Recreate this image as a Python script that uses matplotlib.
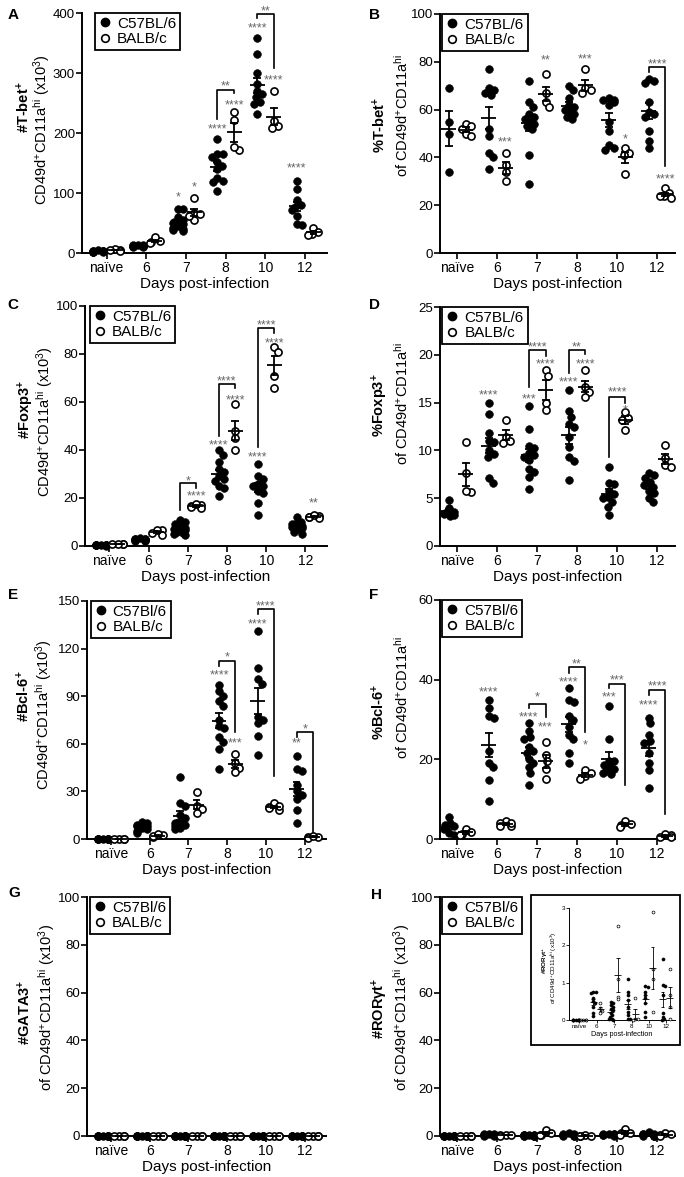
import numpy as np
import matplotlib
matplotlib.use('Agg')
import matplotlib.pyplot as plt
from matplotlib.lines import Line2D
from matplotlib.patches import Rectangle

plt.rcParams.update({
    'font.family': ['Liberation Sans', 'DejaVu Sans'],
    'mathtext.fontset': 'custom',
    'mathtext.rm': 'Liberation Sans',
    'mathtext.it': 'Liberation Sans:italic',
    'mathtext.bf': 'Liberation Sans:bold',
    'axes.linewidth': 1.4,
    'xtick.major.width': 1.2,
    'ytick.major.width': 1.2,
    'xtick.major.size': 4,
    'ytick.major.size': 4,
    'xtick.labelsize': 10,
    'ytick.labelsize': 9.5,
})

days = ['naïve', '6', '7', '8', '10', '12']

# ---- A: #T-bet+ (x10^3)
tbet_num_b6 = [
    [2, 3, 4, 2, 5, 3, 1, 4, 2, 3],
    [10, 12, 13, 11, 14, 12, 10, 13, 12, 11],
    [73, 73, 60, 55, 52, 50, 48, 45, 42, 40, 38, 36],
    [190, 165, 165, 160, 152, 145, 140, 125, 120, 118, 104],
    [358, 332, 300, 282, 270, 265, 260, 252, 248, 232],
    [120, 106, 88, 80, 76, 72, 62, 48, 46]]
tbet_num_balb = [
    [5, 6, 4, 5],
    [18, 20, 17, 26],
    [91, 67, 55, 62, 65],
    [235, 222, 172, 177],
    [270, 220, 212, 208],
    [42, 35, 32, 30]]

# ---- B: %T-bet+
tbet_pct_b6 = [
    [69, 55, 50, 34],
    [77, 69, 68, 67, 66, 52, 49, 42, 40, 35],
    [72, 63, 61, 58, 57, 56, 55, 54, 53, 52, 41, 29],
    [70, 68, 65, 62, 61, 60, 59, 58, 57, 56],
    [65, 64, 64, 63, 62, 55, 51, 45, 44, 43],
    [73, 72, 71, 63, 59, 58, 57, 51, 47, 44]]
tbet_pct_balb = [
    [54, 53, 52, 50, 49],
    [42, 37, 34, 30],
    [75, 67, 63, 61],
    [77, 69, 68, 67],
    [44, 42, 41, 33],
    [27, 25, 24, 24, 23]]

# ---- C: #Foxp3+ (x10^3)
foxp3_num_b6 = [
    [0.3, 0.5, 0.4, 0.6, 0.2, 0.5, 0.4, 0.3, 0.6, 0.5],
    [2.5, 3, 2, 3.2, 2.8, 2.2, 3, 2.6, 2.4, 2.9],
    [10.8, 10, 9, 8, 7.5, 7, 6.5, 6, 5.5, 5, 4.5],
    [40, 38, 35, 32, 31, 29, 28, 27, 25, 24, 21],
    [34, 29, 28, 26, 25, 25, 23, 22, 18, 13],
    [12, 10, 9, 8.5, 8, 7.5, 7, 6, 5, 9]]
foxp3_num_balb = [
    [0.8, 0.7, 0.9, 0.8],
    [6.5, 4.5, 6.8, 5.5],
    [17, 16.5, 16, 16.2, 17.5],
    [59, 48, 45, 40],
    [83, 81, 71, 66],
    [12.5, 12, 11.5, 12, 13]]

# ---- D: %Foxp3+
foxp3_pct_b6 = [
    [4.8, 4.0, 3.6, 3.5, 3.3, 3.2, 3.1],
    [15, 13.8, 11.8, 11, 10.9, 10, 9.6, 9.3, 7.1, 6.6],
    [14.6, 12.2, 10.5, 10.2, 9.7, 9.5, 9.3, 9, 8.1, 7.7, 7.2, 6],
    [16.3, 14.1, 13.5, 12.8, 12.4, 11.4, 10.4, 9.3, 8.9, 6.9],
    [8.3, 6.6, 6.5, 5.8, 5.4, 5.1, 5, 4.6, 4.1, 3.2],
    [7.6, 7.4, 7.1, 6.7, 6.4, 6.2, 5.8, 5.5, 5, 4.6]]
foxp3_pct_balb = [
    [10.9, 7.6, 5.7, 5.8],
    [13.2, 11.4, 10.8, 11],
    [18.4, 17.8, 15, 14.2],
    [18.4, 16.6, 16.1, 15.6],
    [14, 13.4, 13.2, 12.1],
    [10.6, 9.2, 8.5, 8.3]]

# ---- E: #Bcl-6+ (x10^3)
bcl6_num_b6 = [
    [0.2, 0.3, 0.1, 0.2, 0.3, 0.2, 0.1, 0.2, 0.3],
    [11, 10, 9, 8, 7, 6, 5, 4, 8],
    [39, 23, 21, 15, 13, 11, 10, 9, 8, 7, 6],
    [97, 93, 90, 87, 84, 75, 71, 70, 64, 61, 57, 44],
    [131, 108, 101, 98, 77, 75, 73, 65, 53],
    [52.5, 44, 43, 34, 30, 28, 25, 18, 10]]
bcl6_num_balb = [
    [0.3, 0.2, 0.3, 0.2],
    [2.5, 1.5, 1.8, 2.9],
    [29.5, 21, 19, 16.5],
    [53.5, 48, 45, 42.5],
    [22.5, 20, 19.5, 18.5, 20.5],
    [1, 1.5, 0.8, 2]]

# ---- F: %Bcl-6+
bcl6_pct_b6 = [
    [5.5, 4, 3.5, 3.2, 2.5, 1.5, 1],
    [34.8, 32.8, 31, 30.5, 22, 19, 18, 14.8, 9.6],
    [29, 27, 25.5, 25, 23, 22, 21.5, 20, 19, 18, 16.5, 13.5],
    [38, 35, 34.5, 31, 30, 28, 26, 25, 21.5, 19],
    [33.5, 25.2, 19.5, 19.5, 18.5, 18, 17.5, 17, 16.5, 16.2],
    [30.5, 29, 26, 24.5, 24, 21.5, 19, 17.3, 12.7]]
bcl6_pct_balb = [
    [2.6, 1.8, 1.3, 0.9],
    [4.6, 4, 3.3, 3.2, 4.1],
    [24.3, 21, 19.5, 17.5, 15],
    [17.4, 16.5, 15.8, 15],
    [4.4, 3.8, 3.4, 3.0],
    [0.6, 1, 0.4, 1.2]]

# ---- G: #GATA3+ (x10^3), all zero
gata3_b6 = [
    [0, 0, 0, 0, 0, 0, 0, 0, 0, 0],
    [0, 0, 0, 0, 0, 0, 0, 0, 0, 0, 0, 0],
    [0, 0, 0, 0, 0, 0, 0, 0, 0, 0, 0, 0],
    [0, 0, 0, 0, 0, 0, 0, 0, 0, 0, 0, 0],
    [0, 0, 0, 0, 0, 0, 0, 0],
    [0, 0, 0, 0, 0, 0, 0, 0]]
gata3_balb = [
    [0, 0, 0, 0], [0, 0, 0, 0], [0, 0, 0, 0],
    [0, 0, 0, 0], [0, 0, 0, 0], [0, 0, 0, 0]]

# ---- H: #RORgt+ (x10^3)
rorgt_b6 = [
    [0, 0, 0, 0, 0, 0, 0, 0],
    [0.76, 0.74, 0.72, 0.6, 0.5, 0.45, 0.35, 0.2, 0.1],
    [0.49, 0.45, 0.4, 0.36, 0.3, 0.27, 0.18, 0.13, 0.09, 0.04, 0.02, 0],
    [1.09, 0.76, 0.67, 0.54, 0.36, 0.22, 0.13, 0.04, 0.02],
    [0.9, 0.88, 0.76, 0.67, 0.58, 0.45, 0.22, 0.09],
    [1.63, 0.94, 0.9, 0.67, 0.18, 0.07, 0.02, 0]]
rorgt_balb = [
    [0, 0, 0, 0],
    [0.45, 0.31, 0.25, 0.18],
    [2.52, 1.1, 0.62, 0.55],
    [0.58, 0.03, 0.02, 0],
    [2.9, 1.36, 1.1, 0.22],
    [1.36, 0.67, 0.36, 0.02]]

# significance marks: (day, strain 0=B6 1=BALB, text, y)
stars_a = [(2, 0, '*', 99), (2, 1, '*', 115), (3, 0, '****', 212), (3, 1, '****', 252),
           (4, 0, '****', 380), (4, 1, '****', 294), (5, 0, '****', 147)]
stars_b = [(1, 1, '***', 47.8), (2, 1, '**', 82), (3, 1, '***', 82.6), (4, 1, '*', 49.2),
           (5, 1, '****', 32.4)]
stars_c = [(2, 1, '****', 22), (3, 0, '****', 43.5), (3, 1, '****', 62.2), (4, 0, '****', 38.6),
           (4, 1, '****', 86), (5, 1, '**', 19.4)]
stars_d = [(1, 0, '****', 16.1), (2, 0, '***', 15.7), (2, 1, '****', 19.4), (3, 0, '****', 17.5),
           (3, 1, '****', 19.4), (4, 1, '*', 14.6)]
stars_e = [(3, 0, '****', 105.3), (3, 1, '***', 62.6), (4, 0, '****', 137.8), (5, 0, '**', 62.6)]
stars_f = [(1, 0, '****', 37.8), (2, 0, '****', 31.3), (2, 1, '***', 29), (3, 0, '****', 40.3),
           (3, 1, '*', 24.4), (4, 0, '***', 36.5), (5, 0, '****', 34.5)]
# brackets: (day, left leg bottom, right leg bottom, top, text, text y)
brk_a = [(3, 224, 266, 272, '**', 283), (4, 392, 308, 399, '**', 409)]
brk_b = [(5, 75.6, 36.6, 78, '****', 80.6)]
brk_c = [(2, 15, 24, 26.1, '*', 28.4), (3, 46, 65.7, 67.5, '****', 70), (4, 41.4, 88.9, 91, '****', 93.4)]
brk_d = [(2, 16.6, 19.9, 20.5, '****', 21.2), (3, 18.1, 20.1, 20.5, '**', 21.2),
         (4, 9.3, 15.0, 15.6, '****', 16.4)]
brk_e = [(3, 108.8, 67.4, 112, '*', 117), (4, 141.6, 40, 144.7, '****', 148.7),
         (5, 64.3, 4.4, 67.4, '*', 71.5)]
brk_f = [(2, 32.8, 30.7, 34, '*', 36.5), (3, 41.7, 26.9, 43.1, '**', 44.8),
         (4, 37.8, 13.5, 39, '***', 40.8), (5, 36.1, 6.4, 37.4, '****', 39.2)]

W, H = 684, 1177
fig = plt.figure(figsize=(W / 100, H / 100), dpi=100)
COL_OFF = 0.21


def add_ax(x0, x1, y0, y1, **kw):
    return fig.add_axes([x0 / W, 1 - y1 / H, (x1 - x0) / W, (y1 - y0) / H], **kw)


def swarm(ax, x0, vals, diam_px, max_off):
    vals = np.asarray(vals, float)
    pts = ax.transData.transform(np.column_stack([np.full(len(vals), x0), vals]))
    ypx = pts[:, 1]
    ppu = ax.transData.transform((1, 0))[0] - ax.transData.transform((0, 0))[0]
    d = diam_px * 0.8
    offs = np.zeros(len(vals))
    placed = []
    for i in np.argsort(-vals, kind='stable'):
        cands, blocks = [0.0], []
        for ox, oy in placed:
            dy = abs(ypx[i] - oy)
            if dy < d:
                w = np.sqrt(d * d - dy * dy)
                blocks.append((ox - w, ox + w))
                cands += [ox + w, ox - w]
        cands.sort(key=abs)
        for c in cands:
            if all(not (lo + 1e-6 < c < hi - 1e-6) for lo, hi in blocks):
                break
        offs[i] = c
        placed.append((c, ypx[i]))
    return np.clip(offs / ppu, -max_off, max_off)


def star(ax, x, y, s, fs=9):
    ax.annotate(s, (x, y), xytext=(0, -2.6), textcoords='offset points', ha='center',
                va='center', fontsize=fs, color='#666666', annotation_clip=False)


def draw_groups(ax, b6, balb, s=31, lw=1.3, mean_w=0.19, cap_w=0.1, max_off=0.13, open_lw=1.2):
    diam = np.sqrt(s) * 100 / 72
    for i, (a, b) in enumerate(zip(b6, balb)):
        for vals, dx, filled in ((a, -COL_OFF, True), (b, COL_OFF, False)):
            x = i + dx
            xs = x + swarm(ax, x, vals, diam, max_off)
            ax.scatter(xs, vals, s=s if filled else s * 0.85,
                       facecolor='black' if filled else 'white', edgecolor='black',
                       linewidth=0.4 if filled else open_lw, zorder=3, clip_on=False)
            v = np.asarray(vals, float)
            m = v.mean()
            se = v.std(ddof=1) / np.sqrt(len(v))
            ax.plot([x - mean_w, x + mean_w], [m, m], color='black', lw=lw, zorder=4,
                    solid_capstyle='butt', clip_on=False)
            ax.plot([x, x], [m - se, m + se], color='black', lw=lw, zorder=4, clip_on=False)
            for yy in (m - se, m + se):
                ax.plot([x - cap_w, x + cap_w], [yy, yy], color='black', lw=lw, zorder=4,
                        solid_capstyle='butt', clip_on=False)


def style_axes(ax, ymax, ystep, xlim):
    ax.set_xlim(*xlim)
    ax.set_ylim(0, ymax)
    ax.set_yticks(np.arange(0, ymax + 0.01, ystep))
    ax.set_xticks(range(len(days)))
    ax.set_xticklabels(days)
    ax.spines['top'].set_visible(False)
    ax.spines['right'].set_visible(False)
    ax.tick_params(axis='x', pad=1.5)
    ax.tick_params(axis='y', pad=1)


panels = [
    # letter, b6, balb, ymax, ystep, axes px box, line1, line2, label positions, b6 label, stars, brackets, legend x
    ('A', tbet_num_b6, tbet_num_balb, 400, 100, (82, 327, 13, 253),
     '#T-bet$^{\\mathbf{+}}$', 'CD49d$^{+}$CD11a$^{\\mathrm{hi}}$ (x10$^{3}$)',
     (24, 107, 42, 130), 'C57BL/6', stars_a, brk_a, 0.053),
    ('B', tbet_pct_b6, tbet_pct_balb, 100, 20, (440, 675, 14, 253),
     '%T-bet$^{\\mathbf{+}}$', 'of CD49d$^{+}$CD11a$^{\\mathrm{hi}}$',
     (380, 125, 402, 115), 'C57BL/6', stars_b, brk_b, 0.01),
    ('C', foxp3_num_b6, foxp3_num_balb, 100, 20, (85, 327, 306, 546),
     '#Foxp3$^{\\mathbf{+}}$', 'CD49d$^{+}$CD11a$^{\\mathrm{hi}}$ (x10$^{3}$)',
     (26, 410, 45, 422), 'C57BL/6', stars_c, brk_c, 0.02),
    ('D', foxp3_pct_b6, foxp3_pct_balb, 25, 5, (440, 675, 307, 546),
     '%Foxp3$^{\\mathbf{+}}$', 'of CD49d$^{+}$CD11a$^{\\mathrm{hi}}$',
     (380, 405, 402, 403), 'C57BL/6', stars_d, brk_d, 0.01),
    ('E', bcl6_num_b6, bcl6_num_balb, 150, 30, (87, 326, 601, 839),
     '#Bcl-6$^{\\mathbf{+}}$', 'CD49d$^{+}$CD11a$^{\\mathrm{hi}}$ (x10$^{3}$)',
     (24, 696, 44, 715), 'C57Bl/6', stars_e, brk_e, 0.015),
    ('F', bcl6_pct_b6, bcl6_pct_balb, 60, 20, (440, 675, 600, 839),
     '%Bcl-6$^{\\mathbf{+}}$', 'of CD49d$^{+}$CD11a$^{\\mathrm{hi}}$',
     (379, 712, 402, 697), 'C57Bl/6', stars_f, brk_f, 0.01),
    ('G', gata3_b6, gata3_balb, 100, 20, (87, 326, 897, 1136),
     '#GATA3$^{\\mathbf{+}}$', 'of CD49d$^{+}$CD11a$^{\\mathrm{hi}}$ (x10$^{3}$)',
     (25, 1012, 47, 1007), 'C57Bl/6', [], [], 0.012),
    ('H', rorgt_b6, rorgt_balb, 100, 20, (440, 675, 897, 1136),
     '#ROR$\\mathbf{\\gamma}$t$^{\\mathbf{+}}$', 'of CD49d$^{+}$CD11a$^{\\mathrm{hi}}$ (x10$^{3}$)',
     (380, 1008, 402, 1007), 'C57Bl/6', [], [], 0.01),
]

letter_pos = {'A': (13, 15), 'B': (374, 15), 'C': (13, 305), 'D': (374, 305),
              'E': (13, 595), 'F': (374, 595), 'G': (14, 893), 'H': (376, 895)}

for (letter, b6, balb, ymax, ystep, box, line1, line2, lab, b6_name,
     stars, brackets, legx) in panels:
    x0, x1, y0, y1 = box
    ax = add_ax(x0, x1, y0, y1)
    xlim = (-0.62, 5.55) if x0 < 300 else (-0.43, 5.45)
    style_axes(ax, ymax, ystep, xlim)
    draw_groups(ax, b6, balb)
    ax.set_xlabel('Days post-infection', fontsize=11, labelpad=2)

    for day, strain, txt, yy in stars:
        star(ax, day + (COL_OFF if strain else -COL_OFF), yy, txt)
    for day, yl, yr, yt, txt, ytxt in brackets:
        xl, xr = day - COL_OFF, day + COL_OFF
        ax.plot([xl, xl, xr, xr], [yl, yt, yt, yr], color='black', lw=1.2,
                zorder=5, clip_on=False)
        star(ax, (xl + xr) / 2, ytxt, txt)

    handles = [Line2D([], [], marker='o', ls='', mfc='black', mec='black', ms=6),
               Line2D([], [], marker='o', ls='', mfc='white', mec='black', mew=1.2, ms=5.5)]
    leg = ax.legend(handles, [b6_name, 'BALB/c'], loc='upper left', bbox_to_anchor=(legx, 1.0),
                    borderaxespad=0, frameon=True, fancybox=False, edgecolor='black',
                    fontsize=11, handlelength=0.8, handletextpad=0.4, borderpad=0.25,
                    labelspacing=0.1, framealpha=1)
    leg.get_frame().set_linewidth(1.3)
    leg.set_zorder(10)

    fig.text(lab[0] / W, 1 - lab[1] / H, line1, rotation=90, ha='center', va='center',
             fontsize=10.5, fontweight='bold')
    fig.text(lab[2] / W, 1 - lab[3] / H, line2, rotation=90, ha='center', va='center',
             fontsize=10.5)
    lx, ly = letter_pos[letter]
    fig.text(lx / W, 1 - ly / H, letter, ha='center', va='center', fontsize=11,
             fontweight='bold')

# ---- inset in H
fig.patches.append(Rectangle((531 / W, 1 - 1045 / H), 149 / W, 150 / H, transform=fig.transFigure,
                             facecolor='white', edgecolor='black', linewidth=1.3, zorder=2))
ins = add_ax(569, 675, 908, 1020, zorder=5)
ins.set_facecolor('none')
ins.set_xlim(-0.6, 5.5)
ins.set_ylim(0, 3)
ins.set_yticks([0, 1, 2, 3])
ins.set_xticks(range(len(days)))
ins.set_xticklabels(days)
ins.spines['top'].set_visible(False)
ins.spines['right'].set_visible(False)
for sp in ins.spines.values():
    sp.set_linewidth(0.7)
ins.tick_params(labelsize=4.5, length=2, width=0.6, pad=1)
draw_groups(ins, rorgt_b6, rorgt_balb, s=5, lw=0.6, mean_w=0.2, cap_w=0.1, max_off=0.16,
            open_lw=0.5)
ins.set_xlabel('Days post-infection', fontsize=5.2, labelpad=1)
fig.text(545 / W, 1 - 960 / H, '#ROR$\\mathbf{\\gamma}$t$^{\\mathbf{+}}$', rotation=90,
         ha='center', va='center', fontsize=4.5, fontweight='bold')
fig.text(554 / W, 1 - 968 / H, 'of CD49d$^{+}$CD11a$^{\\mathrm{hi}}$ (x10$^{3}$)', rotation=90,
         ha='center', va='center', fontsize=4.5)

fig.savefig('out.png', dpi=100)
